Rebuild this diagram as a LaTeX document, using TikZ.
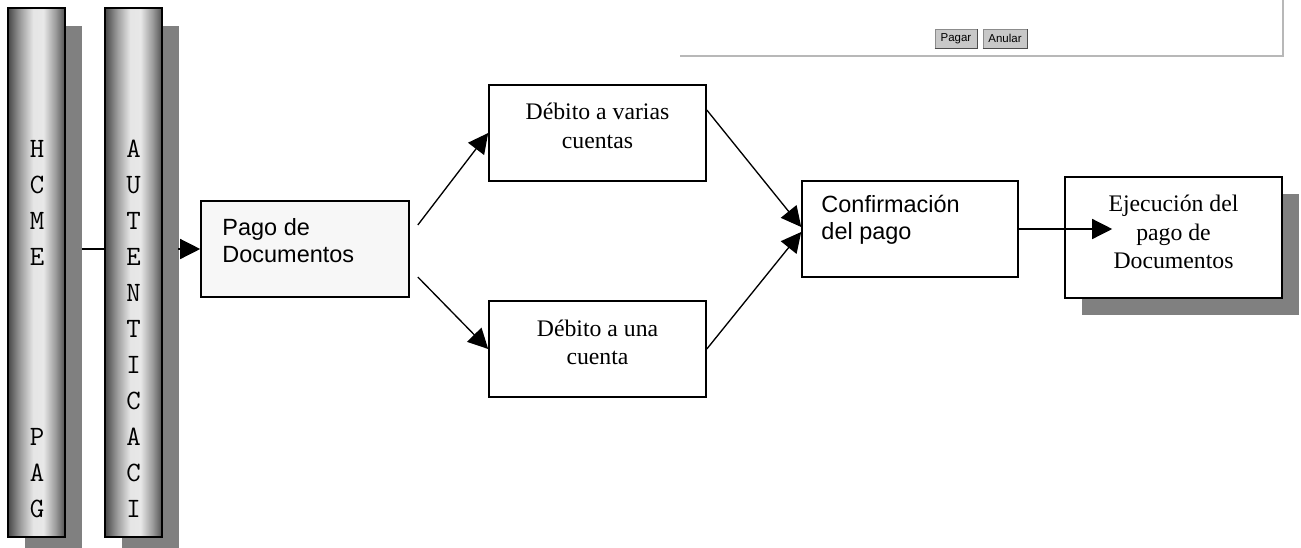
\documentclass[tikz,border=0pt]{standalone}
\usepackage{fontspec}
\setmainfont{Liberation Serif}
\newfontfamily\arialf{Liberation Sans}
\usetikzlibrary{arrows.meta,shadows}
\definecolor{shadowgray}{HTML}{808080}
\definecolor{panelline}{HTML}{B8B8B8}
\definecolor{btnfill}{HTML}{C8C8C8}
\pgfdeclarehorizontalshading{pillarshade}{100bp}{color(0bp)=(black!72); color(25bp)=(black!72); color(36bp)=(black!38); color(47bp)=(black!10); color(56bp)=(black!9); color(67bp)=(black!40); color(75bp)=(black!68); color(100bp)=(black!68)}
\begin{document}
\begin{tikzpicture}[x=0.75pt,y=-0.75pt,
  pillar/.style={draw=black, line width=1.6pt, inner sep=0pt, shading=pillarshade,
    minimum width=42.75pt, minimum height=396.75pt,
    drop shadow={shadow xshift=12.75pt, shadow yshift=-13.5pt, opacity=1, fill=shadowgray}},
  ptext/.style={font=\ttfamily\fontsize{21}{21}\selectfont, inner sep=0pt},
  box/.style={draw=black, line width=1.2pt, inner sep=0pt, minimum height=72pt},
  serift/.style={font=\fontsize{17.8}{21.4}\selectfont, align=center, inner sep=0pt},
  sanst/.style={font=\arialf\fontsize{17.6}{20}\selectfont, align=left, inner sep=0pt},
  arr/.style={line width=1pt, -{Triangle[length=15pt,width=15pt]}},
  plain/.style={line width=1pt},
  btn/.style={fill=btnfill, draw=black!45, line width=0.6pt, inner sep=0pt,
    minimum height=14.25pt, font=\arialf\fontsize{8.6}{9}\selectfont}]
\useasboundingbox (0,0) rectangle (1301,547);
\clip (0,0) rectangle (1301,547);

% screenshot panel (top right)
\draw[panelline, line width=1.5pt] (680,56) -- (1283,56) -- (1283,-2);
\node[btn, minimum width=31.5pt] (pagar) at (956,38.5) {Pagar};
\node[btn, minimum width=33pt] (anular) at (1005,38.5) {Anular};
\draw[black!70, line width=0.8pt] (pagar.south west) -- (pagar.south east) -- (pagar.north east);
\draw[black!70, line width=0.8pt] (anular.south west) -- (anular.south east) -- (anular.north east);

% pillars
\node[pillar] (p1) at (36.5,272.5) {};
\node[pillar] (p2) at (133.5,272.5) {};
\foreach \ch [count=\i] in {H,C,M,E}
  \node[ptext] (ha\i) at (37,149+36*\i-36) {\ch};
\foreach \ch [count=\i] in {P,A,G}
  \node[ptext] (hb\i) at (37,437+36*\i-36) {\ch};
\foreach \ch [count=\i] in {A,U,T,E,N,T,I,C,A,C,I}
  \node[ptext] (au\i) at (133.5,149+36*\i-36) {\ch};

% boxes
\node[box, fill=black!3, minimum width=156pt] (pago) at (305,249) {};
\node[sanst, anchor=west] (pagot) at ([xshift=16.5pt,yshift=6.4pt]pago.west) {Pago de\\Documentos};

\node[box, minimum width=162.75pt] (varias) at (597.5,133) {};
\node[serift] (variast) at ([yshift=5.25pt]varias.center) {Débito a varias\\cuentas};

\node[box, minimum width=162.75pt] (una) at (597.5,349) {};
\node[serift] (unat) at ([yshift=4.9pt]una.center) {Débito a una\\cuenta};

\node[box, minimum width=162pt] (conf) at (910,229) {};
\node[sanst, anchor=west] (conft) at ([xshift=15pt,yshift=6.75pt]conf.west) {Confirmación\\del pago};

\node[box, fill=white, minimum width=162.75pt, minimum height=90.75pt,
  drop shadow={shadow xshift=12.75pt, shadow yshift=-12.75pt, opacity=1, fill=shadowgray}] (ejec) at (1173.5,237.5) {};
\node[serift] (eject) at ([yshift=4pt]ejec.center) {Ejecución del\\pago de\\Documentos};

% connectors
\draw[plain] ([xshift=12pt]p1.east |- pago.west) -- (p2.west |- pago.west);
\draw[arr] ([xshift=11.25pt]p2.east |- pago.west) -- (pago.west);
\draw[arr] ([xshift=6pt,yshift=18pt]pago.east) -- (varias.west);
\draw[arr] ([xshift=6pt,yshift=-21pt]pago.east) -- (una.west);
\draw[arr] ([yshift=17.25pt]varias.east) -- ([yshift=1.5pt]conf.west);
\draw[arr] (una.east) -- ([yshift=-2.25pt]conf.west);
\draw[arr] (conf.east) -- ([xshift=36pt]ejec.west |- conf.east);
\end{tikzpicture}
\end{document}
